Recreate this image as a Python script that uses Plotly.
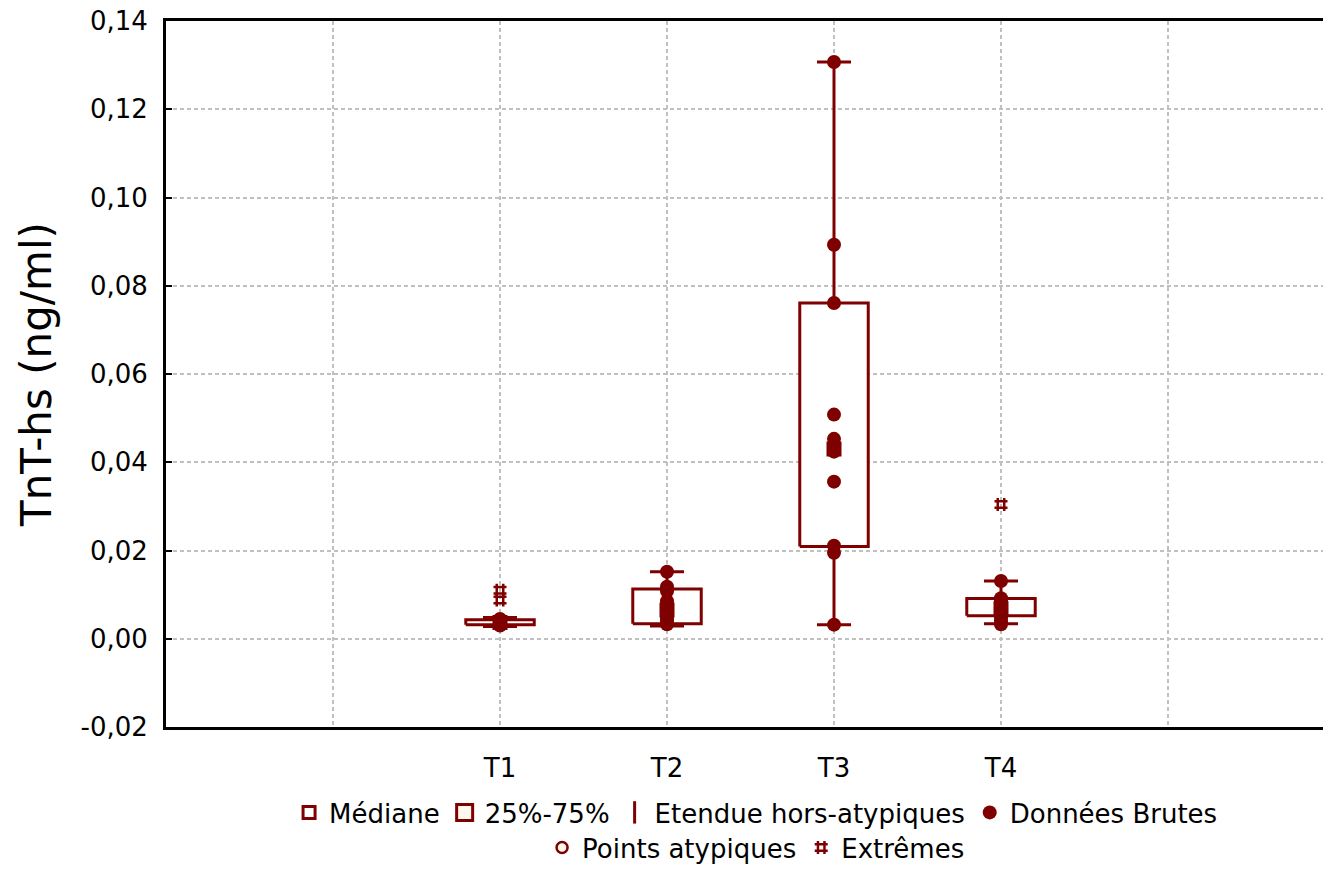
import plotly.graph_objects as go

# ---- data ----
groups = ["T1", "T2", "T3", "T4"]
positions = [3, 4, 5, 6]

medians = [0.0037, 0.0065, 0.0430, 0.0068]
q1 = [0.0032, 0.0034, 0.0209, 0.0052]
q3 = [0.0043, 0.0113, 0.0761, 0.0091]
whisker_low = [0.0028, 0.0029, 0.0032, 0.0034]
whisker_high = [0.0048, 0.0152, 0.1307, 0.0131]

raw_T1 = [0.0045, 0.0041, 0.0038, 0.0035, 0.0032, 0.0030]
raw_T2 = [0.0152, 0.0118, 0.0113, 0.0108, 0.0085, 0.0066, 0.0058, 0.0050, 0.0044, 0.0038, 0.0033]
raw_T3 = [0.1307, 0.0893, 0.0761, 0.0508, 0.0453, 0.0440, 0.0430, 0.0424, 0.0356, 0.0211, 0.0195, 0.0032]
raw_T4 = [0.0131, 0.0092, 0.0085, 0.0078, 0.0070, 0.0063, 0.0055, 0.0048, 0.0040, 0.0033]
raw_data = [raw_T1, raw_T2, raw_T3, raw_T4]

extremes_T1 = [0.0110, 0.0088]
extremes_T4 = [0.0304]
extremes = [extremes_T1, [], [], extremes_T4]

y_ticks = [-0.02, 0.00, 0.02, 0.04, 0.06, 0.08, 0.10, 0.12, 0.14]
y_tick_labels = ["-0,02", "0,00", "0,02", "0,04", "0,06", "0,08", "0,10", "0,12", "0,14"]

# ---- styles ----
RED = "#7f0000"
BOX_HALF = 0.205
FONT = "DejaVu Sans"

fig = go.Figure()

# whiskers (error bars around median, hidden inside box)
fig.add_trace(go.Scatter(
    x=positions, y=medians, mode="markers",
    marker=dict(color="rgba(0,0,0,0)", size=1),
    error_y=dict(type="data", symmetric=False,
                 array=[h - m for h, m in zip(whisker_high, medians)],
                 arrayminus=[m - l for m, l in zip(medians, whisker_low)],
                 color=RED, thickness=3, width=17),
    showlegend=False, hoverinfo="skip"))

# boxes 25%-75%
bx, by = [], []
for p, a, b in zip(positions, q1, q3):
    bx += [p - BOX_HALF, p + BOX_HALF, p + BOX_HALF, p - BOX_HALF, p - BOX_HALF, None]
    by += [a, a, b, b, a, None]
fig.add_trace(go.Scatter(
    x=bx, y=by, mode="lines", fill="toself", fillcolor="white",
    line=dict(color=RED, width=3), showlegend=False, hoverinfo="skip"))

# medians
fig.add_trace(go.Scatter(
    x=positions, y=medians, mode="markers", name="Médiane",
    marker=dict(symbol="square-open", size=12, color=RED, line=dict(width=3)),
    legend="legend"))

# legend-only: 25%-75%
fig.add_trace(go.Scatter(
    x=[None], y=[None], mode="markers", name="25%-75%",
    marker=dict(symbol="square", size=16, color="#fff8ee", line=dict(color=RED, width=3)),
    legend="legend"))

# legend-only: whisker range
fig.add_trace(go.Scatter(
    x=[None], y=[None], mode="markers", name="Etendue hors-atypiques",
    marker=dict(symbol="line-ns-open", size=16, color=RED, line=dict(width=3, color=RED)),
    legend="legend"))

# raw data points
rx, ry = [], []
for p, vals in zip(positions, raw_data):
    rx += [p] * len(vals)
    ry += vals
fig.add_trace(go.Scatter(
    x=rx, y=ry, mode="markers", name="Données Brutes",
    marker=dict(symbol="circle", size=14, color=RED),
    legend="legend"))

# outliers (none)
fig.add_trace(go.Scatter(
    x=[None], y=[None], mode="markers", name="Points atypiques",
    marker=dict(symbol="circle", size=11, color="#fff8ee", line=dict(color=RED, width=2.5)),
    legend="legend2"))

# extremes
ex, ey = [], []
for p, vals in zip(positions, extremes):
    ex += [p] * len(vals)
    ey += vals
fig.add_trace(go.Scatter(
    x=ex, y=ey, mode="markers", name="Extrêmes",
    marker=dict(symbol="hash-open", size=13, color=RED, line=dict(width=2.5, color=RED)),
    legend="legend2"))

fig.update_layout(
    width=1323, height=871,
    margin=dict(l=166, r=0, t=21, b=143),
    paper_bgcolor="white", plot_bgcolor="white",
    separators=",.",
    font=dict(family=FONT, size=26, color="black"),
    xaxis=dict(
        range=[1, 1 + 1157 / 167],
        tickvals=[2, 3, 4, 5, 6, 7],
        ticktext=["", "T1", "T2", "T3", "T4", ""],
        showgrid=True, gridcolor="#c0c0c0", gridwidth=2, griddash="4px,3px",
        showline=True, linecolor="black", linewidth=3, mirror=True,
        ticks="", ticklabelstandoff=16, zeroline=False,
        tickfont=dict(family=FONT, size=26, color="black"),
    ),
    yaxis=dict(
        range=[-0.02, 0.14],
        tickvals=y_ticks, ticktext=y_tick_labels,
        showgrid=True, gridcolor="#c0c0c0", gridwidth=2, griddash="4px,3px",
        showline=True, linecolor="black", linewidth=3, mirror=False,
        ticks="inside", ticklen=6, tickwidth=2, tickcolor="black",
        ticklabelstandoff=10, zeroline=False,
        tickfont=dict(family=FONT, size=26, color="black"),
        title=dict(text="TnT-hs (ng/ml)", standoff=16,
                   font=dict(family=FONT, size=42, color="black")),
    ),
    legend=dict(orientation="h", x=0.51, xanchor="center", y=-0.1195, yanchor="middle",
                font=dict(family=FONT, size=26, color="black"),
                bgcolor="rgba(0,0,0,0)", itemclick=False, itemdoubleclick=False),
    legend2=dict(orientation="h", x=0.51, xanchor="center", y=-0.171, yanchor="middle",
                 font=dict(family=FONT, size=26, color="black"),
                 bgcolor="rgba(0,0,0,0)", itemclick=False, itemdoubleclick=False),
    showlegend=True,
)

fig.write_html("out.html", config={"displayModeBar": False},
               post_script="document.body.style.margin='0';document.body.style.overflow='hidden';")
